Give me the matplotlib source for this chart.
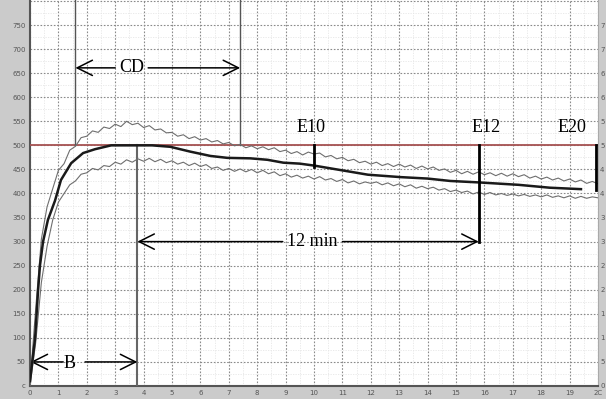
import numpy as np
import matplotlib.pyplot as plt

# upper / lower envelope, sampled every 0.2 min
t_env = np.round(np.arange(0, 20.01, 0.2), 1)
upper = [5, 160, 305, 372, 410, 448, 462, 490, 498, 516,
         519, 530, 527, 538, 535, 544, 539, 550, 543, 546,
         537, 541, 532, 534, 526, 527, 519, 522, 514, 518,
         511, 514, 507, 510, 503, 506, 499, 502, 495, 499,
         493, 497, 491, 495, 487, 490, 483, 487, 480, 486,
         482, 484, 476, 479, 472, 475, 468, 471, 464, 467,
         461, 465, 458, 462, 456, 461, 455, 459, 452, 457,
         451, 455, 448, 451, 444, 448, 441, 446, 440, 445,
         439, 443, 437, 442, 436, 441, 435, 439, 432, 436,
         430, 434, 428, 432, 426, 430, 424, 428, 421, 425, 420]
lower = [0, 90, 215, 290, 345, 382, 400, 418, 426, 440,
         443, 452, 449, 458, 456, 465, 461, 470, 465, 472,
         467, 473, 466, 471, 464, 468, 461, 465, 458, 463,
         456, 460, 452, 455, 448, 452, 446, 451, 445, 450,
         443, 448, 441, 445, 437, 441, 434, 438, 432, 436,
         430, 435, 428, 431, 425, 429, 422, 426, 420, 424,
         421, 424, 418, 422, 416, 420, 414, 418, 411, 415,
         410, 413, 407, 410, 404, 407, 402, 405, 399, 403,
         398, 402, 397, 400, 396, 399, 395, 398, 394, 397,
         393, 397, 392, 395, 391, 395, 390, 394, 390, 393, 391]

# mean curve
t_mean = [0, 0.18, 0.28, 0.35, 0.46, 0.63, 0.88, 1.09, 1.45, 1.87, 2.29, 2.86,
          4.3, 4.94, 5.64, 6.35, 6.95, 7.76, 8.36, 8.92, 9.5, 10, 10.9, 11.9,
          13.05, 14, 14.8, 15.8, 17.2, 18.3, 19.4]
mean = [10, 100, 195, 250, 300, 345, 385, 428, 463, 484, 492, 500,
        500, 497, 487, 478, 474, 473, 470, 464, 462, 458, 449, 439,
        434, 431, 426, 423, 418, 412, 409]

target = 500
cd_lines = [1.6, 7.4]
b_end = 3.78
e_marks = {"E10": (10.0, 455, 9.88), "E12": (15.8, 300, 16.05), "E20": (19.93, 408, 19.1)}

y_ticks = list(range(0, 751, 50))
y_left = ["c"] + [str(v) for v in y_ticks[1:]]
y_right = [str(v)[0] for v in y_ticks]
x_labels = [str(v) for v in range(0, 20)] + ["2C"]

fig = plt.figure(figsize=(6.06, 3.99), dpi=100, facecolor="#cbcbcb")
ax = fig.add_axes([30 / 606, 13 / 399, 568 / 606, 386 / 399])
ax.set_facecolor("white")
ax.set_xlim(0, 20)
ax.set_ylim(0, 802)

ax.set_xticks(range(0, 21))
ax.set_yticks(y_ticks)
ax.set_xticks(np.arange(0, 20, 0.5), minor=True)
ax.set_yticks(range(25, 800, 50), minor=True)
ax.grid(which="major", color="#8a8a8a", linestyle=(0, (1.5, 1.5)), linewidth=0.8)
ax.grid(which="minor", color="#e6e6e6", linestyle=(0, (1.5, 1.5)), linewidth=0.6)
ax.axhline(800, color="#8a8a8a", linestyle=(0, (1.5, 1.5)), linewidth=0.8)
ax.tick_params(which="both", length=0, labelsize=5, labelcolor="#555555", pad=3)
ax.set_yticklabels(y_left)
ax.set_xticklabels(x_labels)
for s in ["left", "bottom"]:
    ax.spines[s].set_color("#555555")
    ax.spines[s].set_linewidth(1.5)
ax.spines["top"].set_visible(False)
ax.spines["right"].set_color("#aaaaaa")

# cut-off labels on the right edge
axr = ax.twinx()
axr.set_ylim(ax.get_ylim())
axr.set_yticks(y_ticks)
axr.set_yticklabels(y_right)
axr.tick_params(length=0, labelsize=5, labelcolor="#555555", pad=1.5)
for s in axr.spines.values():
    s.set_visible(False)

ax.axhline(target, color="#a65252", lw=1.3, zorder=3)
for xc in cd_lines:
    ax.plot([xc, xc], [target, 802], color="#555555", lw=1.0, zorder=3)
ax.plot([b_end, b_end], [0, target], color="#666666", lw=1.5, zorder=3)

ax.plot(t_env, upper, color="#6e6e6e", lw=0.8, zorder=4)
ax.plot(t_env, lower, color="#6e6e6e", lw=0.8, zorder=4)
ax.plot(t_mean, mean, color="#1a1a1a", lw=1.8, zorder=5)

for name, (xm, ybot, xt) in e_marks.items():
    ax.plot([xm, xm], [ybot, target], color="black", lw=2.0, zorder=6)
    ax.text(xt, 537, name, ha="center", va="center", fontsize=13,
            family="Liberation Serif", zorder=7)

arrow = dict(arrowstyle="->,head_length=1.1,head_width=0.55", color="black", lw=1.1,
             shrinkA=0, shrinkB=0)
tkw = dict(ha="center", va="center", fontsize=13, family="Liberation Serif", zorder=7)

ax.annotate("", xy=(cd_lines[0], 661), xytext=(3.0, 661), arrowprops=arrow)
ax.annotate("", xy=(cd_lines[1], 661), xytext=(4.16, 661), arrowprops=arrow)
ax.text(3.6, 661, "CD", **tkw)

ax.annotate("", xy=(0.02, 50), xytext=(1.17, 50), arrowprops=arrow)
ax.annotate("", xy=(b_end, 50), xytext=(1.94, 50), arrowprops=arrow)
ax.text(1.4, 46, "B", **tkw)

ax.annotate("", xy=(b_end, 300), xytext=(8.9, 300), arrowprops=arrow)
ax.annotate("", xy=(15.8, 300), xytext=(11.0, 300), arrowprops=arrow)
ax.text(9.95, 300, "12 min", **tkw)

fig.savefig("out.png", dpi=100, facecolor=fig.get_facecolor())
